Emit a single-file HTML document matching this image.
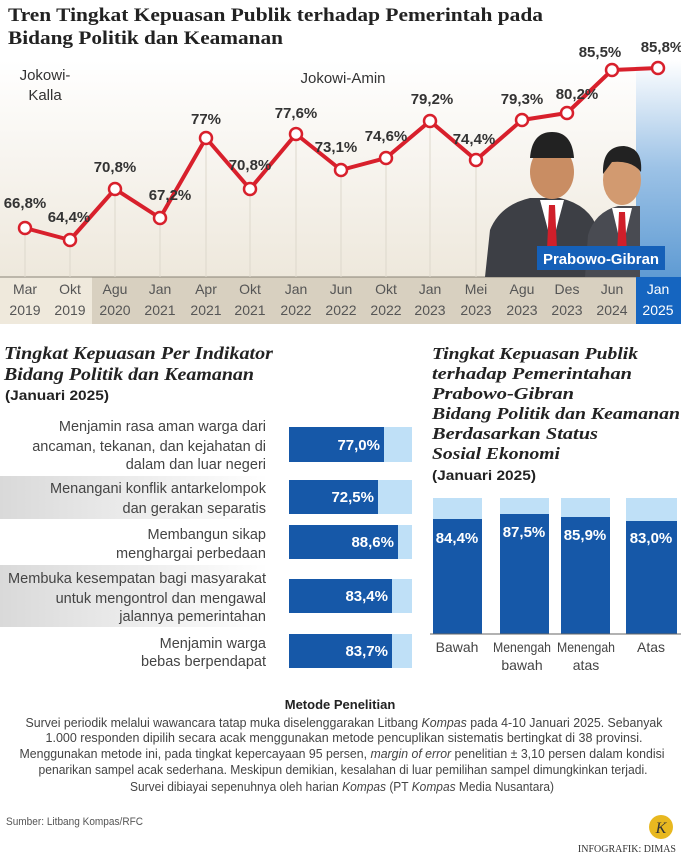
<!DOCTYPE html>
<html><head><meta charset="utf-8"><style>
html,body{margin:0;padding:0;background:#fff}
svg{display:block}
.n{font-family:"Liberation Sans",sans-serif}
</style></head><body>
<svg width="681" height="861" viewBox="0 0 681 861" xmlns="http://www.w3.org/2000/svg">
<defs>
<linearGradient id="bg" x1="0" y1="0" x2="0" y2="1"><stop offset="0" stop-color="#fff"/><stop offset="1" stop-color="#eee8dc"/></linearGradient>
<linearGradient id="bl" x1="0" y1="0" x2="0" y2="1"><stop offset="0" stop-color="#ffffff"/><stop offset="0.5" stop-color="#9cc2e6"/><stop offset="1" stop-color="#5f9bd3"/></linearGradient>
<linearGradient id="gr" x1="0" y1="0" x2="1" y2="0"><stop offset="0" stop-color="#d9d9d9"/><stop offset="1" stop-color="#ffffff"/></linearGradient>
</defs>
<rect width="681" height="861" fill="#fff"/>
<rect x="0" y="60" width="681" height="217" fill="url(#bg)"/>
<rect x="636" y="60" width="45" height="217" fill="url(#bl)"/>
<rect x="0" y="277" width="92" height="47" fill="#efe9dc"/>
<rect x="92" y="277" width="544" height="47" fill="#d8d0c0"/>
<rect x="636" y="277" width="45" height="47" fill="#1565c0"/>
<line x1="0" y1="277" x2="636" y2="277" stroke="#8a8478" stroke-width="1"/>
<g font-family="Liberation Serif,serif" font-weight="bold" font-size="19" fill="#222">
<text x="8" y="21" textLength="535" lengthAdjust="spacingAndGlyphs">Tren Tingkat Kepuasan Publik terhadap Pemerintah pada</text>
<text x="8" y="44" textLength="275" lengthAdjust="spacingAndGlyphs">Bidang Politik dan Keamanan</text>
</g>
<g stroke="#ddd8cc" stroke-width="1">
<line x1="25" y1="228" x2="25" y2="277"/><line x1="70" y1="240" x2="70" y2="277"/><line x1="115" y1="189" x2="115" y2="277"/><line x1="160" y1="218" x2="160" y2="277"/><line x1="206" y1="138" x2="206" y2="277"/><line x1="250" y1="189" x2="250" y2="277"/><line x1="296" y1="134" x2="296" y2="277"/><line x1="341" y1="170" x2="341" y2="277"/><line x1="386" y1="158" x2="386" y2="277"/><line x1="430" y1="121" x2="430" y2="277"/><line x1="476" y1="160" x2="476" y2="277"/>
</g>
<g class="n" font-size="15" fill="#333">
<text x="45" y="80" text-anchor="middle">Jokowi-</text>
<text x="45" y="100" text-anchor="middle">Kalla</text>
<text x="343" y="83" text-anchor="middle">Jokowi-Amin</text>
</g>
<g>
<path d="M485 277 L490 230 Q500 205 530 198 L560 198 Q590 205 598 230 L600 277 Z" fill="#3d3f45"/>
<path d="M540 200 L552 245 L564 200 Z" fill="#fff"/><path d="M549 205 L555 205 L557 250 L552 258 L547 250 Z" fill="#d01f2a"/>
<ellipse cx="552" cy="172" rx="22" ry="27" fill="#c98d63"/>
<path d="M530 158 Q532 132 552 132 Q572 132 574 158 Z" fill="#222"/>
<path d="M585 277 L588 235 Q595 212 618 206 L640 206 L640 277 Z" fill="#494b52"/>
<path d="M612 208 L622 250 L632 208 Z" fill="#fff"/><path d="M619 212 L625 212 L627 255 L622 262 L617 255 Z" fill="#d01f2a"/>
<ellipse cx="622" cy="180" rx="19" ry="25" fill="#d29a70"/>
<path d="M603 174 Q602 146 624 146 Q643 148 641 172 Q632 160 612 162 Z" fill="#222"/>
<rect x="537" y="246" width="128" height="24" fill="#1560b8"/>
<text x="601" y="264" text-anchor="middle" class="n" font-weight="bold" font-size="15" fill="#fff" textLength="116" lengthAdjust="spacingAndGlyphs">Prabowo-Gibran</text>
</g>
<polyline points="25,228 70,240 115,189 160,218 206,138 250,189 296,134 341,170 386,158 430,121 476,160 522,120 567,113 612,70 658,68" fill="none" stroke="#d8202c" stroke-width="4" stroke-linejoin="round"/>
<g fill="#fff" stroke="#d8202c" stroke-width="2.5">
<circle cx="25" cy="228" r="6"/><circle cx="70" cy="240" r="6"/><circle cx="115" cy="189" r="6"/><circle cx="160" cy="218" r="6"/><circle cx="206" cy="138" r="6"/><circle cx="250" cy="189" r="6"/><circle cx="296" cy="134" r="6"/><circle cx="341" cy="170" r="6"/><circle cx="386" cy="158" r="6"/><circle cx="430" cy="121" r="6"/><circle cx="476" cy="160" r="6"/><circle cx="522" cy="120" r="6"/><circle cx="567" cy="113" r="6"/><circle cx="612" cy="70" r="6"/><circle cx="658" cy="68" r="6"/>
</g>
<g class="n" font-weight="bold" font-size="15" fill="#333" text-anchor="middle">
<text x="25" y="208">66,8%</text><text x="69" y="222">64,4%</text><text x="115" y="172">70,8%</text><text x="170" y="200">67,2%</text><text x="206" y="124">77%</text><text x="250" y="170">70,8%</text><text x="296" y="118">77,6%</text><text x="336" y="152">73,1%</text><text x="386" y="141">74,6%</text><text x="432" y="104">79,2%</text><text x="474" y="144">74,4%</text><text x="522" y="104">79,3%</text><text x="577" y="99">80,2%</text><text x="600" y="57">85,5%</text><text x="662" y="52">85,8%</text>
</g>
<g class="n" font-size="14" fill="#555" text-anchor="middle">
<text x="25" y="294">Mar</text><text x="25" y="315">2019</text>
<text x="70" y="294">Okt</text><text x="70" y="315">2019</text>
<text x="115" y="294">Agu</text><text x="115" y="315">2020</text>
<text x="160" y="294">Jan</text><text x="160" y="315">2021</text>
<text x="206" y="294">Apr</text><text x="206" y="315">2021</text>
<text x="250" y="294">Okt</text><text x="250" y="315">2021</text>
<text x="296" y="294">Jan</text><text x="296" y="315">2022</text>
<text x="341" y="294">Jun</text><text x="341" y="315">2022</text>
<text x="386" y="294">Okt</text><text x="386" y="315">2022</text>
<text x="430" y="294">Jan</text><text x="430" y="315">2023</text>
<text x="476" y="294">Mei</text><text x="476" y="315">2023</text>
<text x="522" y="294">Agu</text><text x="522" y="315">2023</text>
<text x="567" y="294">Des</text><text x="567" y="315">2023</text>
<text x="612" y="294">Jun</text><text x="612" y="315">2024</text>
<text x="658" y="294" fill="#fff">Jan</text><text x="658" y="315" fill="#fff">2025</text>
</g>
<g font-family="Liberation Serif,serif" font-weight="bold" font-style="italic" font-size="18" fill="#222">
<text x="4" y="359" textLength="269" lengthAdjust="spacingAndGlyphs">Tingkat Kepuasan Per Indikator</text>
<text x="4" y="380" textLength="250" lengthAdjust="spacingAndGlyphs">Bidang Politik dan Keamanan</text>
</g>
<text x="5" y="400" class="n" font-weight="bold" font-size="14" fill="#222" textLength="104" lengthAdjust="spacingAndGlyphs">(Januari 2025)</text>
<rect x="0" y="476" width="268" height="43" fill="url(#gr)"/>
<rect x="0" y="565" width="268" height="62" fill="url(#gr)"/>
<g class="n" font-size="14.5" fill="#444" text-anchor="end">
<text x="266" y="431">Menjamin rasa aman warga dari</text>
<text x="266" y="451">ancaman, tekanan, dan kejahatan di</text>
<text x="266" y="469">dalam dan luar negeri</text>
<text x="266" y="493">Menangani konflik antarkelompok</text>
<text x="266" y="513">dan gerakan separatis</text>
<text x="266" y="539">Membangun sikap</text>
<text x="266" y="558">menghargai perbedaan</text>
<text x="266" y="583" textLength="258" lengthAdjust="spacingAndGlyphs">Membuka kesempatan bagi masyarakat</text>
<text x="266" y="603">untuk mengontrol dan mengawal</text>
<text x="266" y="621">jalannya pemerintahan</text>
<text x="266" y="648">Menjamin warga</text>
<text x="266" y="666">bebas berpendapat</text>
</g>
<g fill="#bfe0f7"><rect x="289" y="427" width="123" height="35"/><rect x="289" y="480" width="123" height="34"/><rect x="289" y="525" width="123" height="34"/><rect x="289" y="579" width="123" height="34"/><rect x="289" y="634" width="123" height="34"/></g>
<g fill="#1658a8"><rect x="289" y="427" width="95" height="35"/><rect x="289" y="480" width="89" height="34"/><rect x="289" y="525" width="109" height="34"/><rect x="289" y="579" width="103" height="34"/><rect x="289" y="634" width="103" height="34"/></g>
<g class="n" font-weight="bold" font-size="15" fill="#fff" text-anchor="end">
<text x="380" y="450">77,0%</text><text x="374" y="502">72,5%</text><text x="394" y="547">88,6%</text><text x="388" y="601">83,4%</text><text x="388" y="656">83,7%</text>
</g>
<g font-family="Liberation Serif,serif" font-weight="bold" font-style="italic" font-size="17" fill="#222">
<text x="432" y="359" textLength="206" lengthAdjust="spacingAndGlyphs">Tingkat Kepuasan Publik</text>
<text x="432" y="379" textLength="200" lengthAdjust="spacingAndGlyphs">terhadap Pemerintahan</text>
<text x="432" y="399" textLength="142" lengthAdjust="spacingAndGlyphs">Prabowo-Gibran</text>
<text x="432" y="419" textLength="248" lengthAdjust="spacingAndGlyphs">Bidang Politik dan Keamanan</text>
<text x="432" y="439" textLength="166" lengthAdjust="spacingAndGlyphs">Berdasarkan Status</text>
<text x="432" y="459" textLength="128" lengthAdjust="spacingAndGlyphs">Sosial Ekonomi</text>
</g>
<text x="432" y="480" class="n" font-weight="bold" font-size="14" fill="#222" textLength="104" lengthAdjust="spacingAndGlyphs">(Januari 2025)</text>
<g fill="#bfe0f7"><rect x="433" y="498" width="49" height="136"/><rect x="500" y="498" width="49" height="136"/><rect x="561" y="498" width="49" height="136"/><rect x="626" y="498" width="51" height="136"/></g>
<g fill="#1658a8"><rect x="433" y="519" width="49" height="115"/><rect x="500" y="514" width="49" height="120"/><rect x="561" y="517" width="49" height="117"/><rect x="626" y="521" width="51" height="113"/></g>
<line x1="430" y1="634" x2="681" y2="634" stroke="#666" stroke-width="1"/>
<g class="n" font-weight="bold" font-size="15" fill="#fff" text-anchor="middle">
<text x="457" y="543">84,4%</text><text x="524" y="537">87,5%</text><text x="585" y="540">85,9%</text><text x="651" y="543">83,0%</text>
</g>
<g class="n" font-size="14" fill="#444" text-anchor="middle">
<text x="457" y="652">Bawah</text><text x="522" y="652" textLength="58" lengthAdjust="spacingAndGlyphs">Menengah</text><text x="522" y="670">bawah</text><text x="586" y="652" textLength="58" lengthAdjust="spacingAndGlyphs">Menengah</text><text x="586" y="670">atas</text><text x="651" y="652">Atas</text>
</g>
<g class="n" fill="#444" text-anchor="middle" font-size="13">
<text x="340" y="709" font-weight="bold" fill="#222">Metode Penelitian</text>
<text x="344" y="727" textLength="637" lengthAdjust="spacingAndGlyphs">Survei periodik melalui wawancara tatap muka diselenggarakan Litbang <tspan font-style="italic">Kompas</tspan> pada 4-10 Januari 2025. Sebanyak</text>
<text x="344" y="742" textLength="597" lengthAdjust="spacingAndGlyphs">1.000 responden dipilih secara acak menggunakan metode pencuplikan sistematis bertingkat di 38 provinsi.</text>
<text x="342" y="758" textLength="645" lengthAdjust="spacingAndGlyphs">Menggunakan metode ini, pada tingkat kepercayaan 95 persen, <tspan font-style="italic">margin of error</tspan> penelitian ± 3,10 persen dalam kondisi</text>
<text x="343" y="774" textLength="609" lengthAdjust="spacingAndGlyphs">penarikan sampel acak sederhana. Meskipun demikian, kesalahan di luar pemilihan sampel dimungkinkan terjadi.</text>
<text x="342" y="791" textLength="424" lengthAdjust="spacingAndGlyphs">Survei dibiayai sepenuhnya oleh harian <tspan font-style="italic">Kompas</tspan> (PT <tspan font-style="italic">Kompas</tspan> Media Nusantara)</text>
</g>
<text x="6" y="825" class="n" font-size="11" fill="#555" textLength="137" lengthAdjust="spacingAndGlyphs">Sumber: Litbang Kompas/RFC</text>
<circle cx="661" cy="827" r="12" fill="#e8b820"/>
<text x="661" y="833" text-anchor="middle" font-family="Liberation Serif,serif" font-style="italic" font-size="16" fill="#333">K</text>
<text x="676" y="852" text-anchor="end" font-family="Liberation Serif,serif" font-size="10" fill="#333">INFOGRAFIK: DIMAS</text>
</svg>
</body></html>
